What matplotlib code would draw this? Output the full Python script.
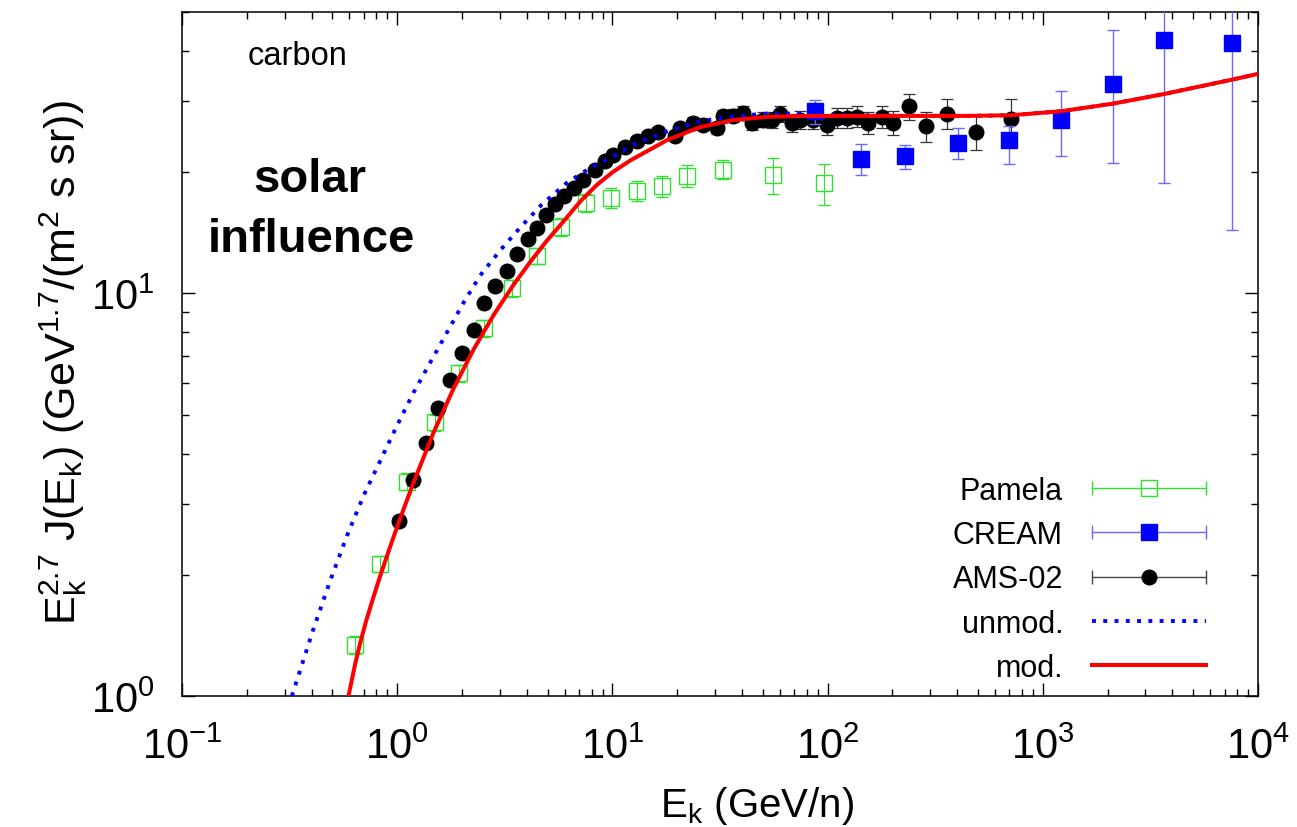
"""Carbon flux (E^2.7 weighted) vs kinetic energy per nucleon, with solar modulation."""

import matplotlib

matplotlib.use("Agg")
import matplotlib.pyplot as plt  # noqa: E402
import matplotlib.ticker as ticker  # noqa: E402
from matplotlib.lines import Line2D  # noqa: E402
from matplotlib.legend_handler import HandlerLine2D, HandlerTuple  # noqa: E402

plt.rcParams["font.family"] = ["Liberation Sans", "DejaVu Sans"]
plt.rcParams["mathtext.fontset"] = "custom"
plt.rcParams["mathtext.rm"] = "Liberation Sans"
plt.rcParams["mathtext.it"] = "Liberation Sans"
plt.rcParams["mathtext.bf"] = "Liberation Sans:bold"
plt.rcParams["mathtext.default"] = "regular"
plt.rcParams["axes.unicode_minus"] = False

# --- Pamela (open green squares)
pamela_e = [0.638, 0.834, 1.11, 1.50, 1.94, 2.54, 3.42, 4.47, 5.78, 7.56,
            9.87, 13.0, 17.0, 22.3, 32.7, 55.9, 96.5]
pamela_j = [1.34, 2.13, 3.41, 4.78, 6.33, 8.20, 10.3, 12.4, 14.6, 16.8,
            17.3, 18.0, 18.5, 19.6, 20.3, 19.7, 18.8]
pamela_err = [0.07, 0.1, 0.16, 0.22, 0.3, 0.4, 0.5, 0.6, 0.75, 0.9,
              1.0, 1.0, 1.1, 1.2, 1.1, 2.0, 2.2]

# --- CREAM (filled blue squares)
cream_e = [87.6, 143.3, 230.1, 401.6, 696.0, 1218.0, 2118.0, 3677.0, 7560.0]
cream_j = [28.35, 21.6, 21.9, 23.7, 24.0, 27.0, 33.2, 42.5, 41.9]
cream_lo = [1.95, 1.9, 1.5, 2.1, 3.0, 5.0, 12.1, 23.7, 27.5]
cream_hi = [1.95, 1.9, 1.5, 2.0, 2.1, 4.9, 11.8, 23.7, 27.5]

# --- AMS-02 (black dots)
ams_e = [1.02, 1.187, 1.364, 1.55, 1.763, 2.005, 2.28, 2.537, 2.854, 3.235,
         3.62, 4.05, 4.46, 4.925, 5.42, 5.93, 6.60, 7.34, 8.32, 9.26,
         10.09, 11.47, 13.04, 14.67, 16.32, 19.58, 20.65,
         23.74, 26.42, 30.69, 32.73, 36.41, 40.53, 44.63, 50.2, 55.3,
         60.2, 68.5, 74.6, 85.7, 99.6, 110.8, 123.3, 137.3, 154.4, 179.4, 201.8,
         239.3, 287.1, 359.6, 490.3, 713.1]
ams_j = [2.72, 3.44, 4.24, 5.18, 6.08, 7.10, 8.09, 9.45, 10.44, 11.36,
         12.50, 13.67, 14.56, 15.70, 16.63, 17.43, 18.30, 19.18, 20.31, 21.30,
         22.13, 23.16, 23.97, 24.66, 25.13, 24.66, 25.82,
         26.57, 26.27, 25.82, 27.65, 27.65, 28.13, 26.57, 27.03, 27.03,
         27.97, 26.57, 27.03, 27.03, 26.27, 27.34, 27.34, 27.50, 26.57, 27.50, 26.57,
         29.16, 26.02, 27.97, 25.23, 27.19]
ams_err = [0.08, 0.1, 0.12, 0.15, 0.17, 0.2, 0.22, 0.25, 0.28, 0.3,
           0.33, 0.36, 0.38, 0.4, 0.42, 0.44, 0.46, 0.48, 0.5, 0.52,
           0.55, 0.57, 0.6, 0.62, 0.65, 0.68, 0.7,
           0.8, 0.85, 0.9, 0.95, 1.0, 1.05, 1.1, 1.2, 1.25,
           1.3, 1.35, 1.4, 1.45, 1.5, 1.55, 1.6, 1.65, 1.7, 1.75, 1.8,
           2.2, 2.2, 2.4, 2.5, 3.2]

# --- model curves
unmod_e = [0.324, 0.408, 0.488, 0.584, 0.697, 0.834, 0.997, 1.191, 1.423, 1.702,
           2.033, 2.43, 3.01, 3.73, 4.70, 6.15, 7.89, 10.12, 13.0, 17.97,
           25.6, 36.4, 52.4, 74.6, 106.2, 217.5, 445.0, 713.0, 1218.0, 2118.0,
           3677.0, 7586.0, 10000.0]
unmod_j = [1.0, 1.467, 1.932, 2.50, 3.14, 3.84, 4.69, 5.67, 6.73, 7.99,
           9.48, 11.08, 12.79, 14.58, 16.63, 18.83, 20.51, 21.91, 23.66, 25.27,
           26.77, 27.54, 27.97, 27.97, 27.73, 27.6, 27.6, 27.7, 28.35, 29.6,
           31.3, 33.96, 35.1]

mod_e = [0.594, 0.638, 0.673, 0.718, 0.774, 0.834, 0.918, 1.014, 1.191, 1.475,
         1.826, 2.262, 2.803, 3.47, 4.15, 4.96, 5.93, 7.09, 8.47, 10.12,
         12.09, 14.46, 17.97, 25.6, 36.4, 52.4, 74.6, 106.2, 217.5, 445.0,
         713.0, 1218.0, 2118.0, 3677.0, 7586.0, 10000.0]
mod_j = [1.0, 1.202, 1.355, 1.539, 1.755, 1.988, 2.312, 2.69, 3.39, 4.51,
         5.80, 7.25, 8.83, 10.50, 11.97, 13.52, 15.10, 16.92, 18.61, 20.08,
         21.38, 22.54, 24.04, 25.89, 26.95, 27.45, 27.57, 27.6, 27.6, 27.6,
         27.7, 28.35, 29.6, 31.3, 33.96, 35.1]

GREEN = "#2fe02f"
BLUE = "#0000ff"
BLUE_ERR = "#6a6aff"
RED = "#ff0000"

fig = plt.figure(figsize=(12.97, 8.28), dpi=100)
ax = fig.add_axes([182 / 1297, 1 - 697 / 828, 1076 / 1297, 684 / 828])

ax.errorbar(pamela_e, pamela_j, yerr=pamela_err, fmt="s", ms=11, mfc="none",
            mec=GREEN, mew=1.0, ecolor=GREEN, elinewidth=0.8, capsize=4.5,
            capthick=0.8, zorder=2)
ax.errorbar(ams_e, ams_j, yerr=ams_err, fmt="o", ms=10.5, color="black",
            ecolor="#333333", elinewidth=0.9, capsize=4.5, capthick=0.9, zorder=3)
ax.errorbar(cream_e, cream_j, yerr=[cream_lo, cream_hi], fmt="s", ms=11,
            color=BLUE, ecolor=BLUE_ERR, elinewidth=1.0, capsize=4.5,
            capthick=1.0, zorder=4)
unmod_line, = ax.plot(unmod_e, unmod_j, color=BLUE, lw=2.8, ls=(0, (1, 1.9)),
                      zorder=5)
mod_line, = ax.plot(mod_e, mod_j, color=RED, lw=2.9, zorder=6)

ax.set_xscale("log")
ax.set_yscale("log")
ax.set_xlim(0.1, 1e4)
ax.set_ylim(1, 50)
ax.xaxis.set_major_locator(ticker.LogLocator(base=10, numticks=10))
ax.xaxis.set_minor_locator(ticker.LogLocator(base=10, subs=range(2, 10), numticks=20))
ax.yaxis.set_minor_locator(ticker.LogLocator(base=10, subs=range(2, 10), numticks=20))
ax.xaxis.set_minor_formatter(ticker.NullFormatter())
ax.yaxis.set_minor_formatter(ticker.NullFormatter())

ax.tick_params(which="both", direction="in", top=True, right=True, width=1.0)
ax.tick_params(which="major", length=9.5, labelsize=30)
ax.tick_params(axis="x", which="major", pad=22)
ax.tick_params(axis="y", which="major", pad=20)
ax.tick_params(which="minor", length=5)
for sp in ax.spines.values():
    sp.set_linewidth(1.1)

ax.text(0.107, 0.936, "carbon", transform=ax.transAxes, fontsize=23.5,
        ha="center", va="center")
ax.text(0.119, 0.756, "solar", transform=ax.transAxes, fontsize=34,
        fontweight="bold", ha="center", va="center")
ax.text(0.12, 0.668, "influence", transform=ax.transAxes, fontsize=34,
        fontweight="bold", ha="center", va="center")

fig.text(757 / 1297, 1 - 817 / 828, "$E_k$ (GeV/n)", fontsize=29,
         ha="center", va="baseline")
fig.text(76 / 1297, 1 - 363 / 828,
         "$E_k^{2.7}$ J($E_k$) (GeV$^{1.7}$/(m$^2$ s sr))", fontsize=31,
         rotation=90, rotation_mode="anchor", ha="center", va="baseline")


def errbar_handle(color, bar_color, marker, filled):
    bar = Line2D([], [], color=bar_color, lw=1.0, marker="|", ms=10, mew=1.0)
    dot = Line2D([], [], ls="none", marker=marker, ms=11 if marker == "s" else 10.5,
                 mfc=color if filled else "none", mec=color, mew=1.0)
    return bar, (bar, dot)


pam_bar, pam_h = errbar_handle(GREEN, GREEN, "s", False)
cream_bar, cream_h = errbar_handle(BLUE, BLUE_ERR, "s", True)
ams_bar, ams_h = errbar_handle("black", "#444444", "o", True)

hmap = {
    pam_bar: HandlerLine2D(numpoints=2, marker_pad=0),
    cream_bar: HandlerLine2D(numpoints=2, marker_pad=0),
    ams_bar: HandlerLine2D(numpoints=2, marker_pad=0),
    tuple: HandlerTuple(ndivide=1, pad=0),
}

ax.legend([pam_h, cream_h, ams_h, unmod_line, mod_line],
          ["Pamela", "CREAM", "AMS-02", "unmod.", "mod."],
          loc="lower right", bbox_to_anchor=(1206 / 1297, 1 - 684 / 828),
          bbox_transform=fig.transFigure, frameon=False, fontsize=22,
          markerfirst=False, handlelength=3.73, handletextpad=0.95,
          labelspacing=0.47, borderpad=0, borderaxespad=0, handler_map=hmap)

fig.savefig("out.png", dpi=100, facecolor="white")
plt.close(fig)
